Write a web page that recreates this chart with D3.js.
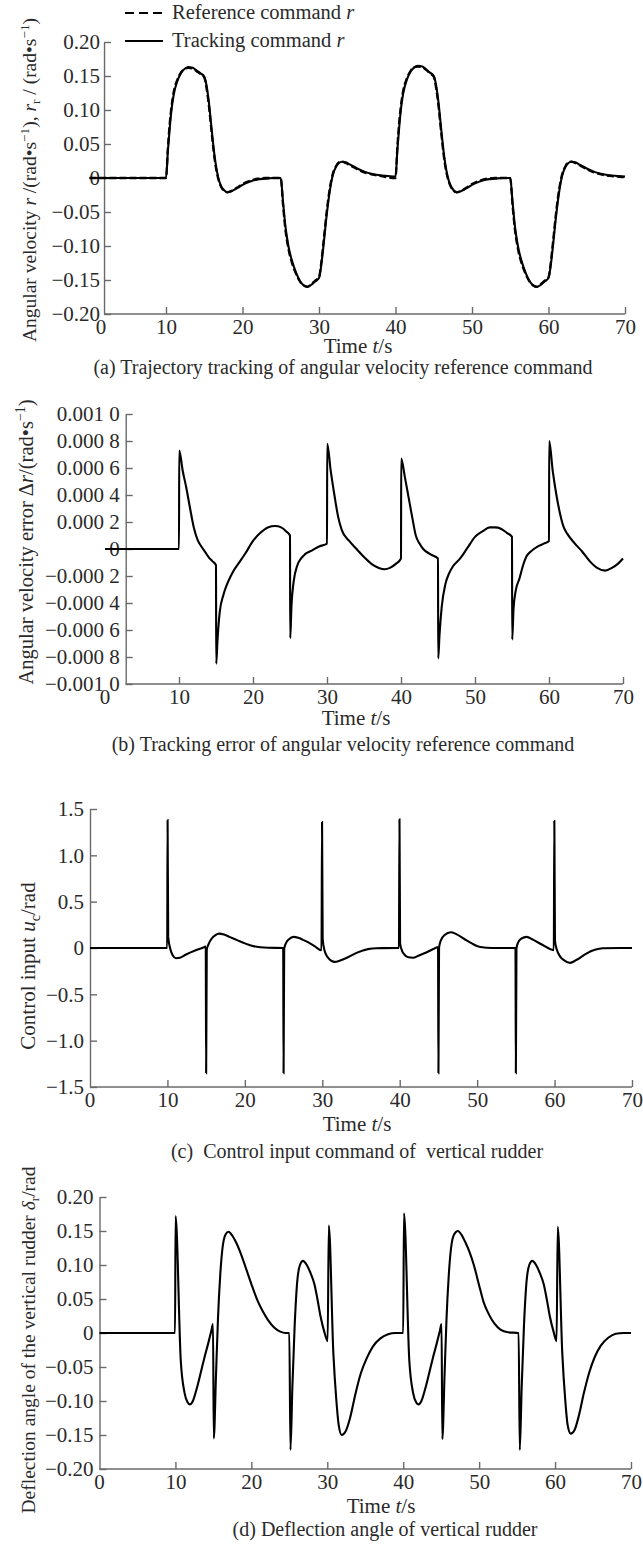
<!DOCTYPE html>
<html>
<head>
<meta charset="utf-8">
<script src="https://cdn.jsdelivr.net/npm/d3@7"></script>
<style>
body { margin: 0; background: #fff; }
svg { display: block; }
text { font-family: "Liberation Serif", "Times New Roman", serif; fill: #2a2a2a; }
</style>
</head>
<body>
<script>
// ---- data: [time s, value] ----

// (a) angular velocity, reference (dashed) and tracking (solid)
var rRef = [[0,0],[10,0],[10.25,0.045],[10.5,0.082],[10.75,0.108],[11,0.126],[11.5,0.145],[12,0.156],[12.5,0.161],[12.9,0.162],[13.5,0.161],[14,0.157],[14.5,0.153],[15,0.148],[15.3,0.132],[15.6,0.107],[16,0.063],[16.4,0.024],[16.8,0],[17.2,-0.013],[17.6,-0.019],[18,-0.021],[18.6,-0.019],[19.3,-0.014],[20,-0.009],[21,-0.004],[22,-0.001],[23,0],[25,0],
  [25.3,-0.04],[25.6,-0.075],[26,-0.104],[26.5,-0.126],[27,-0.141],[27.5,-0.152],[28,-0.158],[28.5,-0.16],[29,-0.156],[29.5,-0.151],[30,-0.146],[30.3,-0.124],[30.6,-0.093],[31,-0.05],[31.4,-0.016],[31.8,0.006],[32.2,0.017],[32.6,0.023],[33,0.024],[33.5,0.022],[34,0.019],[35,0.013],[36,0.008],[37,0.005],[38,0.003],[39,0.001],[40,0],
  [40.25,0.047],[40.5,0.084],[40.75,0.11],[41,0.128],[41.5,0.147],[42,0.158],[42.5,0.163],[42.9,0.164],[43.5,0.163],[44,0.159],[44.5,0.154],[45,0.149],[45.3,0.133],[45.6,0.108],[46,0.064],[46.4,0.025],[46.8,0.001],[47.2,-0.012],[47.6,-0.019],[48,-0.021],[48.6,-0.019],[49.3,-0.014],[50,-0.009],[51,-0.004],[52,-0.001],[53,0],[55,0],
  [55.3,-0.04],[55.6,-0.075],[56,-0.104],[56.5,-0.126],[57,-0.141],[57.5,-0.152],[58,-0.158],[58.5,-0.16],[59,-0.156],[59.5,-0.151],[60,-0.146],[60.3,-0.124],[60.6,-0.093],[61,-0.05],[61.4,-0.016],[61.8,0.006],[62.2,0.017],[62.6,0.023],[63,0.024],[63.5,0.022],[64,0.019],[65,0.013],[66,0.008],[67,0.005],[68,0.003],[69,0.002],[70,0.001]];

var rTrack = [[0,0],[10,0],[10.25,0.04],[10.5,0.075],[10.75,0.103],[11,0.122],[11.5,0.143],[12,0.155],[12.5,0.161],[12.9,0.163],[13.5,0.162],[14,0.158],[14.5,0.154],[15,0.149],[15.3,0.136],[15.6,0.112],[16,0.068],[16.4,0.028],[16.8,0.002],[17.2,-0.012],[17.6,-0.018],[18,-0.021],[18.6,-0.019],[19.3,-0.015],[20,-0.01],[21,-0.005],[22,-0.002],[23,-0.001],[24,0],[25,0],
  [25.3,-0.035],[25.6,-0.07],[26,-0.1],[26.5,-0.123],[27,-0.139],[27.5,-0.151],[28,-0.158],[28.5,-0.16],[29,-0.157],[29.5,-0.152],[30,-0.147],[30.3,-0.128],[30.6,-0.098],[31,-0.055],[31.4,-0.02],[31.8,0.004],[32.2,0.016],[32.6,0.022],[33,0.024],[33.5,0.023],[34,0.02],[35,0.014],[36,0.009],[37,0.006],[38,0.004],[39,0.003],[40,0.002],
  [40.25,0.042],[40.5,0.077],[40.75,0.105],[41,0.124],[41.5,0.145],[42,0.157],[42.5,0.163],[42.9,0.165],[43.5,0.164],[44,0.16],[44.5,0.155],[45,0.15],[45.3,0.137],[45.6,0.113],[46,0.069],[46.4,0.029],[46.8,0.003],[47.2,-0.011],[47.6,-0.018],[48,-0.021],[48.6,-0.019],[49.3,-0.015],[50,-0.01],[51,-0.005],[52,-0.002],[53,-0.001],[54,0],[55,0],
  [55.3,-0.035],[55.6,-0.07],[56,-0.1],[56.5,-0.123],[57,-0.139],[57.5,-0.151],[58,-0.158],[58.5,-0.16],[59,-0.157],[59.5,-0.152],[60,-0.147],[60.3,-0.128],[60.6,-0.098],[61,-0.055],[61.4,-0.02],[61.8,0.004],[62.2,0.016],[62.6,0.022],[63,0.024],[63.5,0.023],[64,0.02],[65,0.014],[66,0.009],[67,0.006],[68,0.004],[69,0.003],[70,0.002]];

// (b) tracking error
var dr = [[0,0],[10,0],[10.03,0.00073],[10.5,0.00058],[11,0.00045],[11.5,0.0003],[12,0.00016],[12.5,0.00007],[13,0.00002],[13.5,-0.00002],[14,-0.00006],[14.5,-0.00009],[15,-0.00012],
  [15.03,-0.00085],[15.2,-0.00068],[15.5,-0.00047],[16,-0.00034],[16.5,-0.00026],[17,-0.0002],[17.5,-0.00015],[18,-0.00011],[19,-0.00003],[20,0.00006],[21,0.00012],[22,0.00016],[23,0.00017],[23.8,0.00016],[24.5,0.00013],[25,0.0001],
  [25.03,-0.00066],[25.2,-0.00042],[25.5,-0.00024],[26,-0.00012],[26.5,-0.00007],[27,-0.00004],[28,-0.00001],[29,0.00002],[30,0.00004],
  [30.03,0.00078],[30.5,0.00058],[31,0.0004],[31.5,0.00024],[32,0.00014],[33,0.00006],[34,0],[35,-0.00006],[36,-0.00011],[37,-0.00014],[37.8,-0.00015],[38.5,-0.00014],[39.3,-0.00011],[40,-0.00007],
  [40.03,0.00067],[40.5,0.00054],[41,0.00039],[41.5,0.00024],[42,0.0001],[42.5,0.00004],[43,0],[44,-0.00004],[45,-0.00007],
  [45.03,-0.00081],[45.2,-0.00064],[45.5,-0.00043],[46,-0.00026],[46.5,-0.00018],[47,-0.00013],[48,-0.00007],[49,0.00001],[50,0.00009],[51,0.00013],[52,0.00016],[52.7,0.00016],[53.5,0.00015],[54.3,0.00012],[55,0.00009],
  [55.03,-0.00067],[55.2,-0.00045],[55.5,-0.00031],[56,-0.00022],[56.5,-0.00012],[57,-0.00005],[57.5,-0.00002],[58.5,0.00002],[59.3,0.00004],[60,0.00006],
  [60.03,0.0008],[60.5,0.00058],[61,0.0004],[61.5,0.00026],[62,0.00016],[62.5,0.00011],[63.5,0.00004],[64.5,-0.00002],[65.5,-0.00009],[66.5,-0.00014],[67.6,-0.00016],[68.5,-0.00014],[69.3,-0.00011],[70,-0.00007]];

// (c) control input
var uc = [[0,0],[9.97,0],[10.02,1.38],[10.1,0.12],[10.4,-0.02],[10.7,-0.08],[11.1,-0.11],[11.6,-0.105],[12.4,-0.07],[13.5,-0.03],[14.5,0],[14.95,0.015],
  [15,-1.35],[15.08,-0.02],[15.3,0.04],[15.7,0.1],[16.2,0.14],[16.7,0.155],[17.3,0.145],[18,0.12],[19,0.085],[20,0.05],[21,0.022],[22,0.008],[23,0.002],[24.95,0],
  [25,-1.35],[25.08,-0.01],[25.3,0.05],[25.7,0.095],[26.3,0.12],[26.9,0.11],[27.5,0.088],[28.2,0.06],[29,0.02],[29.9,-0.025],
  [29.97,1.36],[30.05,0.1],[30.3,-0.03],[30.7,-0.1],[31.2,-0.14],[31.6,-0.15],[32.3,-0.135],[33.3,-0.1],[34.5,-0.05],[35.9,-0.012],[37,-0.002],[39.9,0],
  [39.97,1.39],[40.05,0.05],[40.3,-0.03],[40.6,-0.07],[41.1,-0.1],[41.7,-0.105],[42.5,-0.08],[43.5,-0.045],[44.5,-0.005],[44.95,0.01],
  [45,-1.35],[45.08,0],[45.3,0.08],[45.8,0.14],[46.6,0.17],[47.3,0.15],[48.3,0.1],[49.3,0.05],[50.4,0.01],[52,0],[54.95,0],
  [55,-1.35],[55.08,0],[55.3,0.06],[55.7,0.1],[56.4,0.12],[57.2,0.09],[58.3,0.04],[59.4,-0.01],[59.9,-0.025],
  [59.97,1.37],[60.05,0.08],[60.3,-0.02],[60.7,-0.09],[61.2,-0.13],[62,-0.16],[62.8,-0.13],[64.1,-0.06],[65.2,-0.02],[66.2,-0.002],[70,0]];

// (d) rudder deflection
var dR = [[0,0],[9.95,0],[10.02,0.172],[10.7,-0.04],[11.2,-0.088],[11.6,-0.102],[11.9,-0.105],[12.3,-0.1],[12.8,-0.082],[13.3,-0.06],[13.8,-0.037],[14.3,-0.016],[14.7,0.002],[14.95,0.013],
  [15.05,-0.155],[15.35,-0.06],[15.6,0.02],[15.9,0.085],[16.2,0.125],[16.6,0.145],[17,0.149],[17.5,0.143],[18,0.133],[18.5,0.12],[19.2,0.098],[20,0.072],[20.8,0.048],[21.5,0.032],[22.2,0.019],[23,0.008],[23.8,0.002],[24.5,0],[25,0],
  [25.15,-0.172],[25.4,-0.08],[25.7,0.01],[26,0.07],[26.4,0.1],[26.8,0.106],[27.3,0.1],[27.8,0.088],[28.3,0.072],[28.7,0.05],[29.1,0.025],[29.6,0.002],[30.05,-0.012],
  [30.2,0.158],[30.8,-0.03],[31.2,-0.1],[31.5,-0.135],[31.9,-0.15],[32.4,-0.145],[33,-0.125],[33.7,-0.09],[34.4,-0.06],[35.2,-0.037],[36,-0.02],[37,-0.008],[38,-0.002],[39,0],[40,0],
  [40.1,0.176],[40.8,-0.04],[41.3,-0.088],[41.7,-0.102],[42,-0.105],[42.4,-0.1],[42.9,-0.082],[43.4,-0.06],[43.9,-0.037],[44.4,-0.016],[44.8,0.002],[45.05,0.013],
  [45.15,-0.156],[45.45,-0.06],[45.7,0.02],[46,0.085],[46.3,0.125],[46.7,0.145],[47.2,0.15],[47.7,0.144],[48.2,0.133],[48.7,0.12],[49.3,0.1],[50,0.07],[50.6,0.045],[51.3,0.027],[52,0.014],[52.8,0.005],[53.8,0.001],[55.2,0],
  [55.35,-0.172],[55.6,-0.08],[55.9,0.01],[56.2,0.07],[56.6,0.1],[57,0.106],[57.5,0.1],[58,0.088],[58.5,0.072],[58.9,0.05],[59.3,0.025],[59.8,0.002],[60.2,-0.012],
  [60.35,0.156],[60.95,-0.03],[61.35,-0.1],[61.65,-0.135],[62.05,-0.148],[62.55,-0.143],[63.1,-0.123],[63.8,-0.088],[64.5,-0.058],[65.2,-0.036],[66,-0.019],[67,-0.007],[68,-0.001],[69,0],[70,0]];

// ---- ticks ----
var xTicks = [0, 10, 20, 30, 40, 50, 60, 70];
var yTicksA = [-0.2, -0.15, -0.1, -0.05, 0, 0.05, 0.1, 0.15, 0.2];
var yLabelsA = ["\u22120.20", "\u22120.15", "\u22120.10", "\u22120.05", "0", "0.05", "0.10", "0.15", "0.20"];
var yTicksB = [-0.001, -0.0008, -0.0006, -0.0004, -0.0002, 0, 0.0002, 0.0004, 0.0006, 0.0008, 0.001];
var yLabelsB = ["\u22120.001 0", "\u22120.000 8", "\u22120.000 6", "\u22120.000 4", "\u22120.000 2", "0", "0.000 2", "0.000 4", "0.000 6", "0.000 8", "0.001 0"];
var yTicksC = [-1.5, -1, -0.5, 0, 0.5, 1, 1.5];
var yLabelsC = ["\u22121.5", "\u22121.0", "\u22120.5", "0", "0.5", "1.0", "1.5"];

var W = 643, H = 1548;
var svg = d3.select("body").append("svg").attr("width", W).attr("height", H);

// text made of parts: plain, italic, superscript, subscript
function rich(parent, parts, size) {
    var txt = parent.append("text").style("font-size", size + "px");
    var shift = 0;
    parts.forEach(function(p) {
        var ts = txt.append("tspan").text(p.t);
        var target = p.sup ? -0.38 : (p.sub ? 0.22 : 0);
        if (target !== shift) {
            ts.attr("dy", ((target - shift) * size) + "px");
            shift = target;
        }
        if (p.i) ts.style("font-style", "italic");
        if (p.sup || p.sub) ts.style("font-size", (size * 0.68) + "px");
    });
    return txt;
}

var line = function(x, y) {
    return d3.line()
        .x(function(d) { return x(d[0]); })
        .y(function(d) { return y(d[1]); })
        .curve(d3.curveMonotoneX);
};

function panel(cfg) {
    var x = d3.scaleLinear().domain([0, 70]).range([cfg.x0, cfg.x70]);
    var y = d3.scaleLinear()
        .domain([cfg.yTicks[0], cfg.yTicks[cfg.yTicks.length - 1]])
        .range([cfg.yBottom, cfg.yTop]);
    var ax = x(cfg.axisT);
    var g = svg.append("g");

    // y axis, ticks pointing inward
    var ya = g.append("g")
        .attr("transform", "translate(" + ax + ",0)")
        .call(d3.axisLeft(y)
            .tickValues(cfg.yTicks)
            .tickFormat(function(d, i) { return cfg.yLabels[i]; })
            .tickSizeInner(-7).tickSizeOuter(0).tickPadding(cfg.yPad));
    ya.selectAll("text").style("font-size", "21px");

    // x axis
    var xa = g.append("g")
        .attr("transform", "translate(0," + cfg.yBottom + ")")
        .call(d3.axisBottom(x)
            .tickValues(xTicks)
            .tickSizeInner(-7).tickSizeOuter(0).tickPadding(5));
    xa.select(".domain").remove();
    var zero = xa.selectAll(".tick").filter(function(d) { return d === 0; });
    zero.select("line").remove();
    zero.attr("transform", "translate(" + x(cfg.zeroT) + ",0)");
    xa.selectAll("text").style("font-size", "21px");
    g.append("line")
        .attr("x1", ax).attr("x2", x(70))
        .attr("y1", cfg.yBottom).attr("y2", cfg.yBottom);

    g.selectAll(".domain, .tick line, line")
        .attr("stroke", "#6a6a6a").attr("stroke-width", 1.4);

    // series
    cfg.series.forEach(function(s) {
        g.append("path")
            .datum(s.data)
            .attr("d", line(x, y))
            .attr("fill", "none")
            .attr("stroke", "#000")
            .attr("stroke-width", s.w || 2.1)
            .attr("stroke-dasharray", s.dash || null);
    });

    // x label
    rich(g, [{t: "Time "}, {t: "t", i: 1}, {t: "/s"}], 21)
        .attr("x", cfg.timeX).attr("y", cfg.timeY)
        .attr("text-anchor", "middle");

    // caption
    g.append("text")
        .attr("x", cfg.capX).attr("y", cfg.capY)
        .attr("text-anchor", "middle")
        .style("font-size", "20px")
        .style("white-space", "pre")
        .text(cfg.caption);

    // y label
    rich(g, cfg.yTitle, cfg.yTitleSize)
        .attr("text-anchor", "middle")
        .attr("transform", "translate(" + cfg.yTitleX + "," + cfg.yTitleY + ") rotate(-90)");

    return {x: x, y: y, g: g};
}

// (a)
panel({
    x0: 89.5, x70: 625, axisT: 1.9, zeroT: 1.5, yTop: 42, yBottom: 314, yPad: 4,
    yTicks: yTicksA, yLabels: yLabelsA,
    series: [
        {data: rRef, w: 2.3, dash: "7,3"},
        {data: rTrack, w: 2.1}
    ],
    timeX: 358, timeY: 353, capX: 343, capY: 374,
    caption: "(a) Trajectory tracking of angular velocity reference command",
    yTitleX: 36, yTitleY: 180, yTitleSize: 19.5,
    yTitle: [{t: "Angular velocity "}, {t: "r", i: 1}, {t: " /(rad\u2022s"}, {sup: 1, t: "\u22121"}, {t: "), "},
             {t: "r", i: 1}, {sub: 1, t: "r"}, {t: " / (rad\u2022s"}, {sup: 1, t: "\u22121"}, {t: ")"}]
});

// legend for (a)
var legendItems = [
    {label: "Reference command ", dash: "9,5", y: 13},
    {label: "Tracking command ", dash: null, y: 41}
];
legendItems.forEach(function(d) {
    svg.append("line")
        .attr("x1", 125).attr("x2", 163)
        .attr("y1", d.y).attr("y2", d.y)
        .attr("stroke", "#000").attr("stroke-width", 2)
        .attr("stroke-dasharray", d.dash);
    rich(svg, [{t: d.label}, {t: "r", i: 1}], 20.5)
        .attr("x", 172).attr("y", d.y + 6);
});

// (b)
panel({
    x0: 105, x70: 623, axisT: 2.8, zeroT: 0, yTop: 414, yBottom: 684, yPad: 6,
    yTicks: yTicksB, yLabels: yLabelsB,
    series: [{data: dr, w: 2.1}],
    timeX: 356, timeY: 725, capX: 343, capY: 751,
    caption: "(b) Tracking error of angular velocity reference command",
    yTitleX: 33, yTitleY: 542, yTitleSize: 20.5,
    yTitle: [{t: "Angular velocity error \u0394"}, {t: "r", i: 1}, {t: "/(rad\u2022s"}, {sup: 1, t: "\u22121"}, {t: ")"}]
});

// (c)
panel({
    x0: 90, x70: 632, axisT: 0, zeroT: 0, yTop: 809, yBottom: 1087, yPad: 6,
    yTicks: yTicksC, yLabels: yLabelsC,
    series: [{data: uc, w: 2.1}],
    timeX: 357, timeY: 1131, capX: 357, capY: 1158,
    caption: "(c)  Control input command of  vertical rudder",
    yTitleX: 35, yTitleY: 966, yTitleSize: 21,
    yTitle: [{t: "Control input "}, {t: "u", i: 1}, {sub: 1, t: "c"}, {t: "/rad"}]
});

// (d)
panel({
    x0: 99.5, x70: 631, axisT: 0, zeroT: 0, yTop: 1197, yBottom: 1469, yPad: 6,
    yTicks: yTicksA, yLabels: yLabelsA,
    series: [{data: dR, w: 2.1}],
    timeX: 381, timeY: 1513, capX: 385, capY: 1536,
    caption: "(d) Deflection angle of vertical rudder",
    yTitleX: 35, yTitleY: 1340, yTitleSize: 19.5,
    yTitle: [{t: "Deflection angle of the vertical rudder "}, {t: "\u03b4", i: 1}, {sub: 1, t: "r"}, {t: "/rad"}]
});
</script>
</body>
</html>
